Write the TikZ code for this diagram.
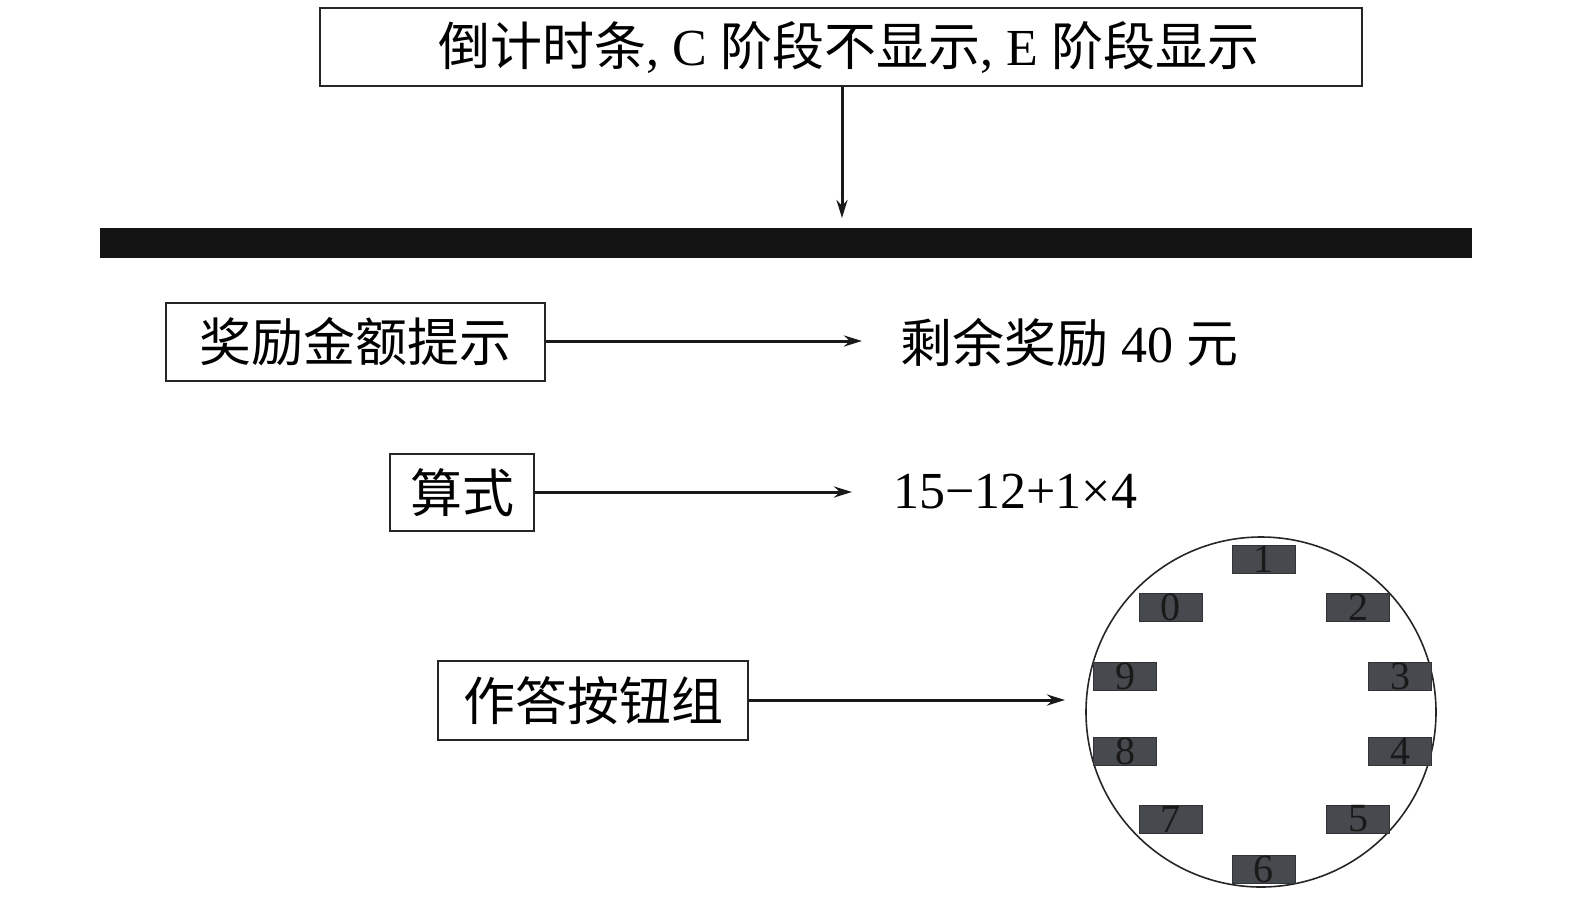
\documentclass[tikz,border=0pt]{standalone}
\usepackage{fontspec}
\setmainfont{Liberation Serif}
\newfontfamily\cjk{Noto Sans CJK SC}
\usetikzlibrary{arrows.meta}
\definecolor{btngray}{HTML}{46494D}
\definecolor{barblack}{HTML}{141414}
\tikzset{
  frame/.style={draw=black!85, line width=1.4pt, inner sep=0pt, fill=white},
  arr/.style={line width=3pt, draw=black!90, -{Stealth[length=18pt,width=11pt]}},
  btn/.style={fill=btngray, draw=btngray!70!black, line width=0.6pt, minimum width=63pt, minimum height=28pt, inner sep=0pt, font=\fontsize{40}{40}\selectfont, text=black!90},
  lbl/.style={font=\fontsize{52}{54}\selectfont, inner sep=0pt}
}
\begin{document}
\begin{tikzpicture}[x=1pt,y=-1pt]
\useasboundingbox (0,0) rectangle (1575,898);
% top box
\node[frame, minimum width=1042pt, minimum height=78pt] (top) at (841,47) {};
\node[lbl] (toptxt) at (849,47)
  {{\cjk 倒计时条}, C {\cjk 阶段不显示}, E {\cjk 阶段显示}};
\coordinate (bartop) at (842,218);
\draw[arr] (top.south -| bartop) -- (bartop);
% bar
\fill[barblack] (100,228) rectangle (1472,258);
% reward
\node[frame, lbl, minimum width=379pt, minimum height=78pt] (reward) at (355.5,342) {\cjk 奖励金额提示};
\node[lbl, anchor=west] (rewardtxt) at (900,343) {{\cjk 剩余奖励} 40 {\cjk 元}};
\coordinate (r1) at (862,341);
\draw[arr] (reward.east |- r1) -- (r1);
% formula
\node[frame, lbl, minimum width=144pt, minimum height=77pt] (formula) at (462,492.5) {\cjk 算式};
\node[lbl, anchor=west] (formtxt) at (893,492) {15−12+1×4};
\coordinate (f1) at (852,492);
\draw[arr] (formula.east |- f1) -- (f1);
% answer buttons
\node[frame, lbl, minimum width=310pt, minimum height=79pt] (ans) at (593,700.5) {\cjk 作答按钮组};
\coordinate (a1) at (1065,700);
\draw[arr] (ans.east |- a1) -- (a1);
% circle
\node[circle, draw=black!85, line width=1.6pt, minimum size=350pt, inner sep=0pt] (dial) at (1261,712) {};
\node[btn] (b1) at (1263.5,559) {1};
\node[btn] (b0) at (1170.5,607) {0};
\node[btn] (b2) at (1358,607) {2};
\node[btn] (b9) at (1125,676) {9};
\node[btn] (b3) at (1400,676) {3};
\node[btn] (b8) at (1125,751) {8};
\node[btn] (b4) at (1400,751) {4};
\node[btn] (b7) at (1170.5,819) {7};
\node[btn] (b5) at (1358,819) {5};
\node[btn] (b6) at (1263.5,869) {6};
\end{tikzpicture}
\end{document}
